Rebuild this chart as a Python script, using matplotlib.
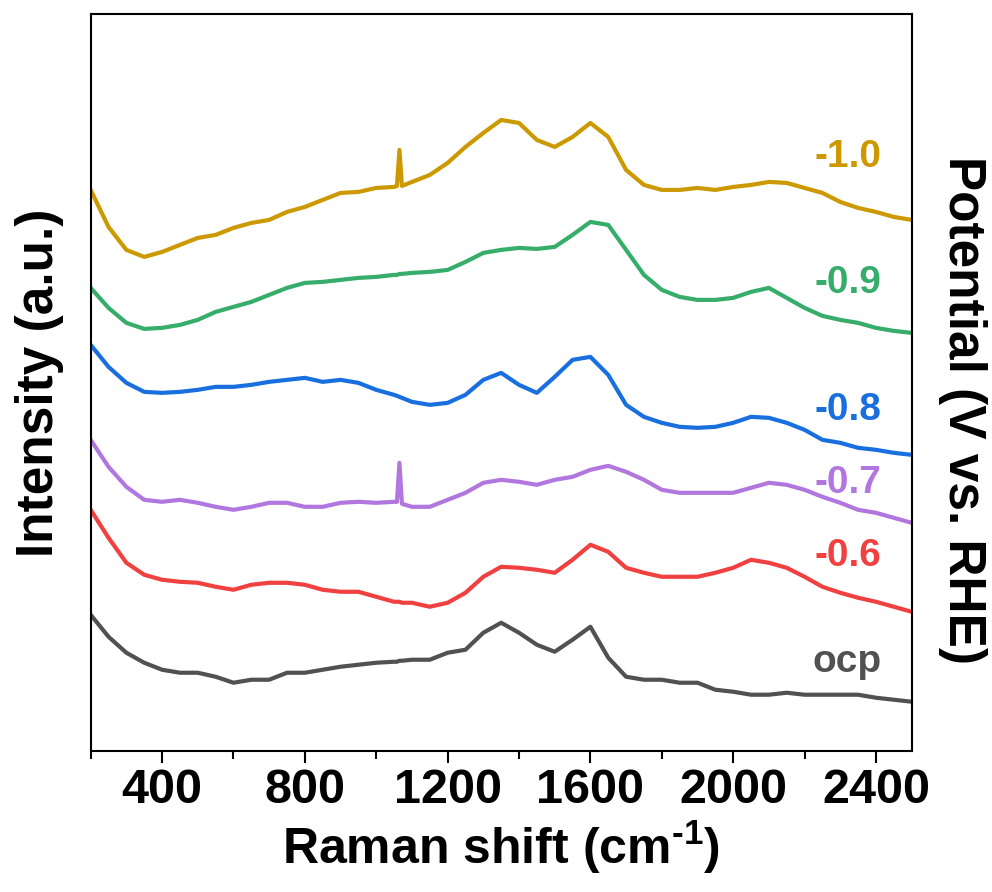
import numpy as np
import matplotlib
matplotlib.use('Agg')
import matplotlib.pyplot as plt
from matplotlib.ticker import MultipleLocator

plt.rcParams['font.family'] = ['Liberation Sans', 'DejaVu Sans']
plt.rcParams['font.weight'] = 'bold'
plt.rcParams['mathtext.fontset'] = 'custom'
plt.rcParams['mathtext.rm'] = 'Liberation Sans:bold'
plt.rcParams['mathtext.bf'] = 'Liberation Sans:bold'
plt.rcParams['mathtext.default'] = 'rm'

# Raman shift grid (cm-1)
shift = [200, 250, 300, 350, 400, 450, 500, 550, 600, 650, 700, 750, 800, 850,
         900, 950, 1000, 1050, 1058, 1065, 1072, 1100, 1150, 1200, 1250, 1300,
         1350, 1400, 1450, 1500, 1550, 1600, 1650, 1700, 1750, 1800, 1850, 1900,
         1950, 2000, 2050, 2100, 2150, 2200, 2250, 2300, 2350, 2400, 2450, 2500]

# stacked intensities (a.u., offsets included)
i_10 = [561, 524, 501, 494, 499, 506, 513, 516, 523, 528, 531, 539, 544, 551,
        558, 559, 563, 564, 565, 601, 565, 569, 576, 588, 604, 618,
        631, 628, 611, 604, 614, 628, 614, 581, 566, 561, 561, 563,
        561, 564, 566, 569, 568, 563, 558, 549, 543, 539, 534, 531]
i_09 = [463, 443, 428, 422, 423, 426, 431, 439, 444, 449, 456, 463, 468, 469,
        471, 473, 474, 476, 476, 477, 477, 478, 479, 481, 489, 498,
        501, 503, 502, 504, 516, 529, 526, 501, 476, 461, 454, 451,
        451, 453, 459, 463, 453, 443, 435, 431, 428, 423, 420, 418]
i_08 = [406, 384, 368, 359, 358, 359, 361, 364, 364, 366, 369, 371, 373, 369,
        371, 368, 361, 356, 355, 354, 353, 349, 346, 348, 356, 371,
        378, 366, 358, 374, 391, 394, 376, 346, 334, 328, 324, 323,
        324, 328, 334, 333, 328, 321, 311, 308, 303, 301, 298, 296]
i_07 = [311, 284, 264, 251, 249, 251, 248, 244, 241, 244, 248, 248, 244, 244,
        248, 249, 248, 249, 249, 288, 247, 244, 244, 251, 258, 268,
        271, 269, 266, 271, 274, 281, 285, 279, 271, 261, 258, 258,
        258, 258, 263, 268, 266, 261, 254, 248, 241, 238, 233, 228]
i_06 = [241, 213, 188, 176, 171, 169, 168, 164, 161, 166, 168, 168, 166, 161,
        159, 159, 154, 149, 149, 149, 148, 148, 144, 148, 158, 174,
        184, 183, 181, 178, 191, 206, 199, 183, 178, 174, 174, 174,
        178, 183, 191, 188, 183, 174, 164, 158, 153, 149, 144, 139]
i_ocp = [136, 114, 98, 88, 81, 78, 78, 74, 68, 71, 71, 78, 78, 81,
         84, 86, 88, 89, 89, 90, 90, 91, 91, 98, 101, 118,
         128, 118, 106, 99, 111, 124, 93, 74, 71, 71, 68, 68,
         61, 59, 56, 56, 58, 56, 56, 56, 56, 53, 51, 49]

labels = ['ocp', '-0.6', '-0.7', '-0.8', '-0.9', '-1.0']
series = [i_ocp, i_06, i_07, i_08, i_09, i_10]
colors = ['#515151', '#F14040', '#B177DE', '#1A6FDF', '#37AD6B', '#CC9900']
label_y = [79, 185, 258, 331, 458, 584]

fig = plt.figure(figsize=(9.92, 8.92), dpi=100)
ax = fig.add_axes([0.0914, 0.1584, 0.8276, 0.8259])

for y, c in zip(series, colors):
    ax.plot(shift, y, color=c, lw=3)

for lab, c, ly in zip(labels, colors, label_y):
    ax.text(2415, ly, lab, color=c, fontsize=28, fontweight='bold',
            ha='right', va='baseline')

ax.set_xlim(200, 2500)
ax.set_ylim(0, 737)
ax.xaxis.set_major_locator(MultipleLocator(400))
ax.xaxis.set_minor_locator(MultipleLocator(200))
ax.set_xticks([400, 800, 1200, 1600, 2000, 2400])
ax.tick_params(axis='x', which='major', direction='out', length=8.6, width=1.5,
               labelsize=35, pad=4)
ax.tick_params(axis='x', which='minor', direction='out', length=5.5, width=1.5)
ax.tick_params(axis='y', left=False, labelleft=False)
for lab in ax.get_xticklabels():
    lab.set_fontweight('bold')
for sp in ax.spines.values():
    sp.set_linewidth(1.5)

ax.set_xlabel(r'Raman shift (cm$^{\text{-}1}$)', fontsize=36, fontweight='bold', labelpad=4)
ax.set_ylabel('Intensity (a.u.)', fontsize=37, fontweight='bold', labelpad=19)
fig.text(962 / 992, 1 - 410 / 892, 'Potential (V vs. RHE)', fontsize=37,
         fontweight='bold', rotation=270, ha='center', va='center')

fig.savefig('out.png', dpi=100)
